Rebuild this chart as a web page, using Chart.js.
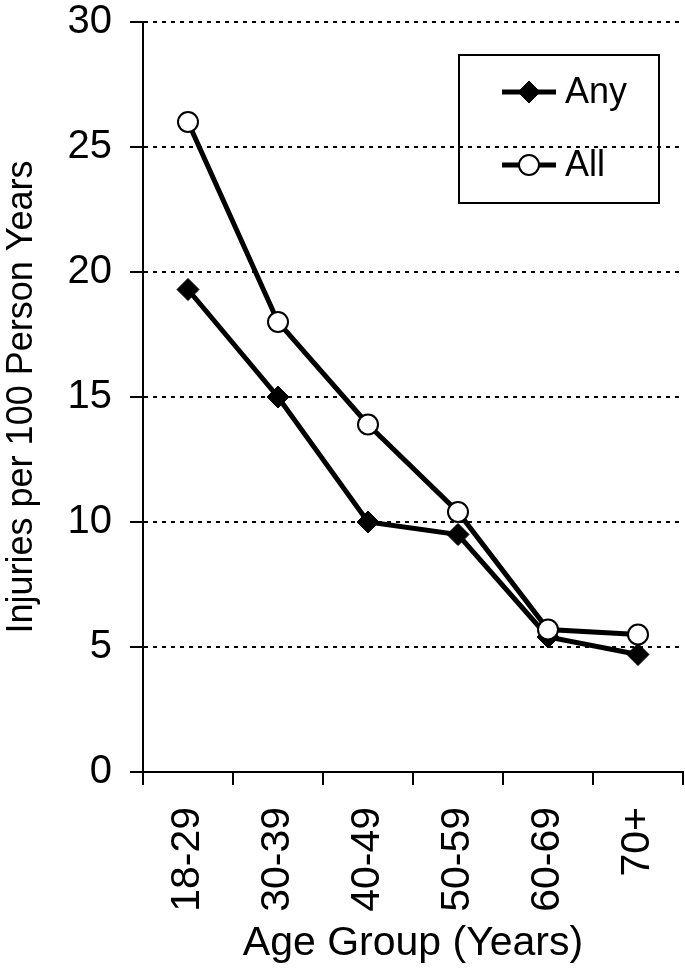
<!DOCTYPE html>
<html>
<head>
<meta charset="utf-8">
<script src="https://cdn.jsdelivr.net/npm/chart.js@4/dist/chart.umd.min.js"></script>
<style>
  html, body { margin: 0; padding: 0; background: #fff; }
  #wrap { width: 685px; height: 971px; position: relative; }
</style>
</head>
<body>
<div id="wrap"><canvas id="c" width="685" height="971"></canvas></div>
<script>
const categories = ['18-29', '30-39', '40-49', '50-59', '60-69', '70+'];
const anyValues = [19.3, 15.0, 10.0, 9.5, 5.4, 4.7];
const allValues = [26.0, 18.0, 13.9, 10.4, 5.7, 5.5];
const seriesNames = ['Any', 'All'];
const yTicks = [0, 5, 10, 15, 20, 25, 30];
const xTitle = 'Age Group (Years)';
const yTitle = 'Injuries per 100 Person Years';

const FONT = "'Liberation Sans', Arial, Helvetica, sans-serif";

const legendBox = {
  id: 'legendBox',
  afterDraw(chart) {
    const ctx = chart.ctx;
    const ca = chart.chartArea;
    const right = ca.right - 24, top = ca.top + 33;
    const w = 200, h = 148;
    const left = right - w;
    ctx.save();
    ctx.strokeStyle = '#000';
    ctx.lineWidth = 2;
    ctx.strokeRect(left, top, w, h);
    const items = [
      { name: seriesNames[0], ds: chart.data.datasets[0] },
      { name: seriesNames[1], ds: chart.data.datasets[1] }
    ];
    const rows = [top + 37, top + 110];
    items.forEach((it, i) => {
      const y = rows[i];
      const x0 = left + 43, x1 = left + 97;
      ctx.beginPath();
      ctx.lineWidth = 5;
      ctx.strokeStyle = '#000';
      ctx.moveTo(x0, y); ctx.lineTo(x1, y); ctx.stroke();
      ctx.fillStyle = it.ds.pointBackgroundColor;
      ctx.strokeStyle = '#000';
      ctx.lineWidth = it.ds.pointBorderWidth;
      Chart.helpers.drawPoint(ctx, {
        pointStyle: it.ds.pointStyle,
        radius: it.ds.pointRadius,
        rotation: 0,
        borderWidth: it.ds.pointBorderWidth
      }, (x0 + x1) / 2, y);
      ctx.fillStyle = '#000';
      ctx.font = '36px ' + FONT;
      ctx.textBaseline = 'middle';
      ctx.textAlign = 'left';
      ctx.fillText(it.name, x1 + 9, y + 1);
    });
    ctx.restore();
  }
};

const whiteBg = {
  id: 'whiteBg',
  beforeDraw(chart) {
    const ctx = chart.ctx;
    ctx.save();
    ctx.fillStyle = '#fff';
    ctx.fillRect(0, 0, chart.width, chart.height);
    ctx.restore();
  }
};

new Chart(document.getElementById('c'), {
  type: 'line',
  data: {
    labels: categories,
    datasets: [
      {
        label: seriesNames[0],
        data: anyValues,
        borderColor: '#000',
        borderWidth: 5,
        pointStyle: 'rectRot',
        pointRadius: 11,
        pointBackgroundColor: '#000',
        pointBorderColor: '#000',
        pointBorderWidth: 1,
        tension: 0,
        clip: false,
        order: 1
      },
      {
        label: seriesNames[1],
        data: allValues,
        borderColor: '#000',
        borderWidth: 5,
        pointStyle: 'circle',
        pointRadius: 10,
        pointBackgroundColor: '#fff',
        pointBorderColor: '#000',
        pointBorderWidth: 2,
        tension: 0,
        clip: false,
        order: 0
      }
    ]
  },
  options: {
    responsive: false,
    animation: false,
    devicePixelRatio: 1,
    layout: { autoPadding: false, padding: { left: 0, right: 2, top: 22, bottom: 0 } },
    plugins: {
      legend: { display: false },
      tooltip: { enabled: false }
    },
    scales: {
      x: {
        offset: true,
        grid: {
          offset: true,
          drawOnChartArea: false,
          drawTicks: true,
          tickLength: 13,
          color: '#000',
          lineWidth: 2
        },
        border: { display: true, color: '#000', width: 2 },
        ticks: {
          color: '#000',
          font: { family: FONT, size: 41 },
          minRotation: 90,
          maxRotation: 90,
          padding: 22,
          autoSkip: false
        },
        title: {
          display: true,
          text: xTitle,
          color: '#000',
          font: { family: FONT, size: 41 },
          padding: { top: 0, bottom: 3 }
        },
        afterFit(scale) {
          scale.height = 199;
          scale.paddingLeft = 0;
          scale.paddingRight = 0;
        }
      },
      y: {
        min: 0,
        max: 30,
        afterBuildTicks(scale) { scale.ticks = yTicks.map(v => ({ value: v })); },
        grid: {
          color: '#000',
          lineWidth: 2,
          drawTicks: true,
          tickLength: 13,
          tickBorderDash: [1, 0],
          tickColor: '#000',
          tickWidth: 2
        },
        border: { display: true, color: '#000', width: 2, dash: [4, 5] },
        ticks: {
          color: '#000',
          font: { family: FONT, size: 40 },
          padding: 18
        },
        title: {
          display: true,
          text: yTitle,
          color: '#000',
          font: { family: FONT, size: 36 },
          padding: { top: 0, bottom: 0 }
        },
        afterFit(scale) {
          scale.width = 143;
          scale.paddingTop = 0;
          scale.paddingBottom = 0;
        }
      }
    }
  },
  plugins: [whiteBg, legendBox]
});
</script>
</body>
</html>
